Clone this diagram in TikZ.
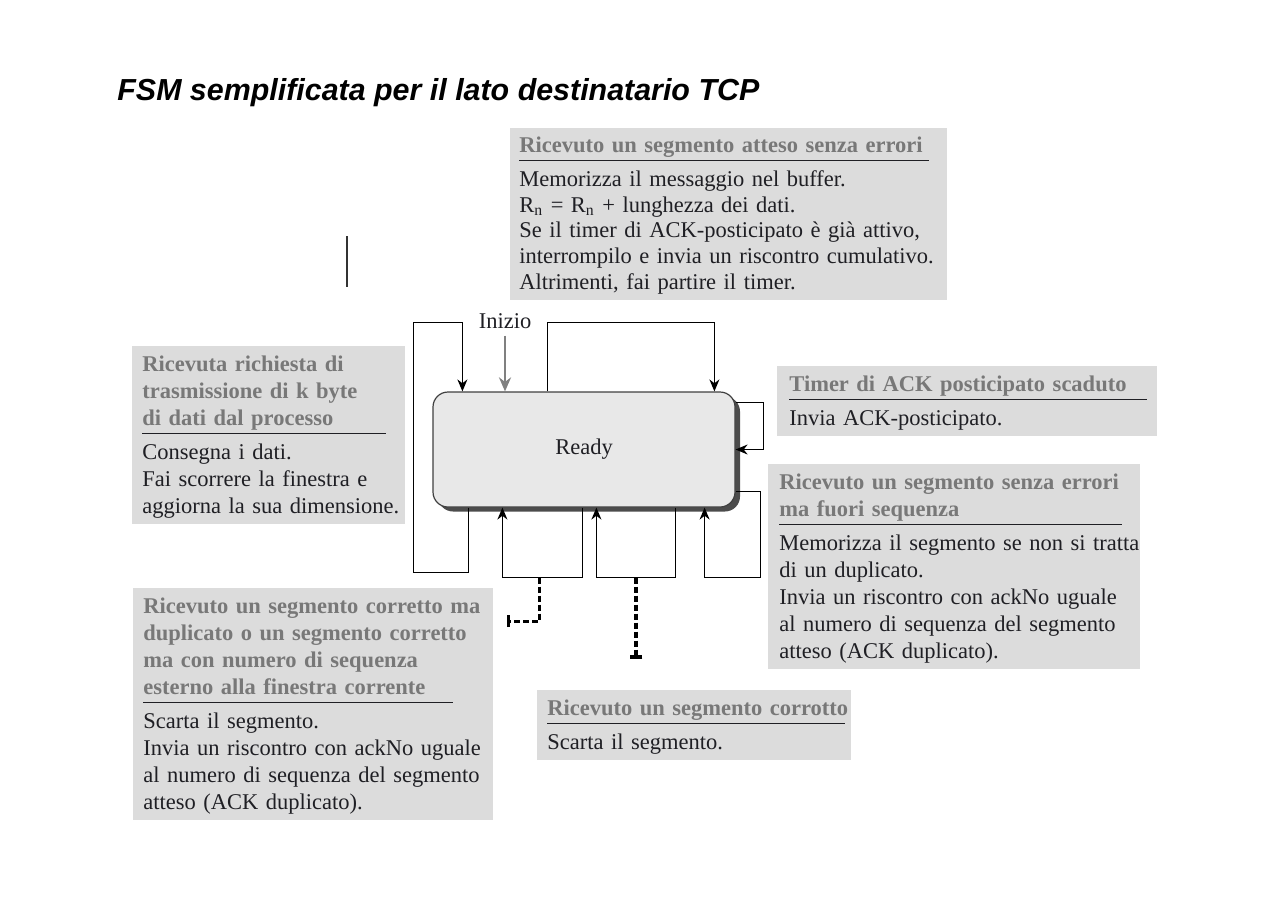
\documentclass[tikz,border=0pt]{standalone}
\usepackage{fontspec}
\setmainfont{Liberation Serif}
\newfontfamily\titlefont{Liberation Sans}
\usetikzlibrary{arrows.meta}

\newlength{\du}
\setlength{\du}{0.5pt}

\definecolor{boxgray}{rgb}{0.863,0.863,0.863}
\definecolor{headgray}{rgb}{0.47,0.47,0.47}
\definecolor{bodytext}{rgb}{0.12,0.12,0.14}
\definecolor{readygray}{rgb}{0.91,0.91,0.91}
\definecolor{readyline}{rgb}{0.25,0.25,0.25}
\definecolor{shadowgray}{rgb}{0.30,0.30,0.30}
\definecolor{startgray}{rgb}{0.50,0.50,0.50}
\definecolor{straygray}{rgb}{0.20,0.20,0.20}

\newcommand{\boxfont}{\fontsize{11.25}{13.5}\selectfont}
\newcommand{\headtext}[1]{{\strut\color{headgray}\bfseries #1}}
\newcommand{\headrule}[1]{\\[\dimexpr4.5pt-\baselineskip\relax]\rule{#1}{0.8pt}\\[\dimexpr12.5pt-\baselineskip\relax]}
\newcommand{\lastdepth}{\rule[-2.3pt]{0pt}{2.3pt}}

\tikzset{
  infobox/.style={anchor=north west, fill=boxgray, text=bodytext, inner xsep=5pt, inner ysep=3pt,
    font=\boxfont, execute at begin node={\raggedright\rightskip=0pt plus 1fil minus 40pt\relax}},
  readybox/.style={draw=readyline, line width=0.6pt, fill=readygray, rounded corners=7.5pt,
    minimum width=151pt, minimum height=57.5pt, inner sep=0pt, text=bodytext, font=\boxfont},
  fsmarc/.style={draw, line width=0.75pt, -{Stealth[length=6pt,width=5pt]}},
  startarrow/.style={draw=startgray, line width=1.2pt, -{Stealth[length=7pt,width=6pt]}},
  dashlink/.style={draw, line width=1.5pt, dash pattern=on 3pt off 1.5pt, -{Bar[width=6pt]}}
}

\begin{document}
\begin{tikzpicture}
\pgftransformyscale{-1.000000}
\useasboundingbox (0\du,0\du) rectangle (1280\du,905\du);
% title
\node[anchor=base west, inner sep=0pt, font=\titlefont\bfseries\itshape\fontsize{15.2}{18}\selectfont] (title) at (117\du,100\du) {FSM semplificata per il lato destinatario TCP};
% stray mark
\draw[line width=1pt, draw=straygray] (347\du,236\du) -- (347\du,287\du);
% state
\node[readybox, draw=none, fill=shadowgray] (readyshadow) at (589\du,454\du) {};
\node[readybox] (ready) at (584\du,449.5\du) {Ready};
% start
\node[font=\boxfont, text=bodytext] (inizio) at (505\du,321\du) {Inizio};
\draw[startarrow] (inizio.south) -- (inizio.south |- ready.north);
% self loops
\draw[fsmarc] (ready.south west) ++(36\du,0) -- ++(0,65\du) -| ++(-55\du,-250\du) -| ([xshift=30\du]ready.north west);
\draw[fsmarc] (ready.north west) ++(115\du,0) -- ++(0,-69\du) -| ([xshift=282\du]ready.north west);
\draw[fsmarc] (ready.north east) ++(0,11\du) -- ++(28\du,0) |- (ready.east);
\draw[fsmarc] (ready.south east) ++(0,-16\du) -- ++(25\du,0) -- ++(0,86\du) -| ([xshift=-31\du]ready.south east);
\draw[fsmarc] (ready.south west) ++(150\du,0) -- ++(0,70\du) -| ([xshift=70\du]ready.south west) coordinate[pos=0.27] (d1);
\draw[fsmarc] (ready.south west) ++(243\du,0) -- ++(0,70\du) -| ([xshift=164\du]ready.south west) coordinate[pos=0.247] (d2);
% actions
\node[infobox, inner xsep=4.5pt, text width=209.5pt, font=\fontsize{11.25}{12.85}\selectfont] (atteso) at (510\du,128\du) {\headtext{Ricevuto un segmento atteso senza errori}\headrule{205pt}Memorizza il messaggio nel buffer.\\R\textsubscript{n} = R\textsubscript{n} + lunghezza dei dati.\\Se il timer di ACK-posticipato è già attivo,\\interrompilo e invia un riscontro cumulativo.\\Altrimenti, fai partire il timer.\lastdepth};
\node[infobox, text width=126.5pt] (consegna) at (132\du,346\du) {\headtext{Ricevuta richiesta di\\trasmissione di k byte\\di dati dal processo}\headrule{122pt}Consegna i dati.\\Fai scorrere la finestra e\\aggiorna la sua dimensione.\lastdepth};
\node[infobox, inner xsep=6pt, text width=178pt] (timer) at (777\du,366\du) {\headtext{Timer di ACK posticipato scaduto}\headrule{179pt}Invia ACK-posticipato.\lastdepth};
\node[infobox, inner xsep=5.5pt, text width=175pt] (fuori) at (768\du,464\du) {\headtext{Ricevuto un segmento senza errori\\ma fuori sequenza}\headrule{171.5pt}Memorizza il segmento se non si tratta\\di un duplicato.\\Invia un riscontro con ackNo uguale\\al numero di sequenza del segmento\\atteso (ACK duplicato).\lastdepth};
\node[infobox, text width=170pt] (scarta) at (133\du,588\du) {\headtext{Ricevuto un segmento corretto ma\\duplicato o un segmento corretto\\ma con numero di sequenza\\esterno alla finestra corrente}\headrule{155pt}Scarta il segmento.\\Invia un riscontro con ackNo uguale\\al numero di sequenza del segmento\\atteso (ACK duplicato).\lastdepth};
\node[infobox, text width=147pt] (corrotto) at (537\du,690\du) {\headtext{Ricevuto un segmento corrotto}\headrule{149pt}Scarta il segmento.\lastdepth};
% links to actions
\coordinate (dupin) at (507\du,621\du);
\coordinate (corrin) at (637\du,659\du);
\draw[dashlink] (d1) |- (dupin);
\draw[dashlink, line width=2pt] (d2) -- (d2 |- corrin);
\end{tikzpicture}
\end{document}
